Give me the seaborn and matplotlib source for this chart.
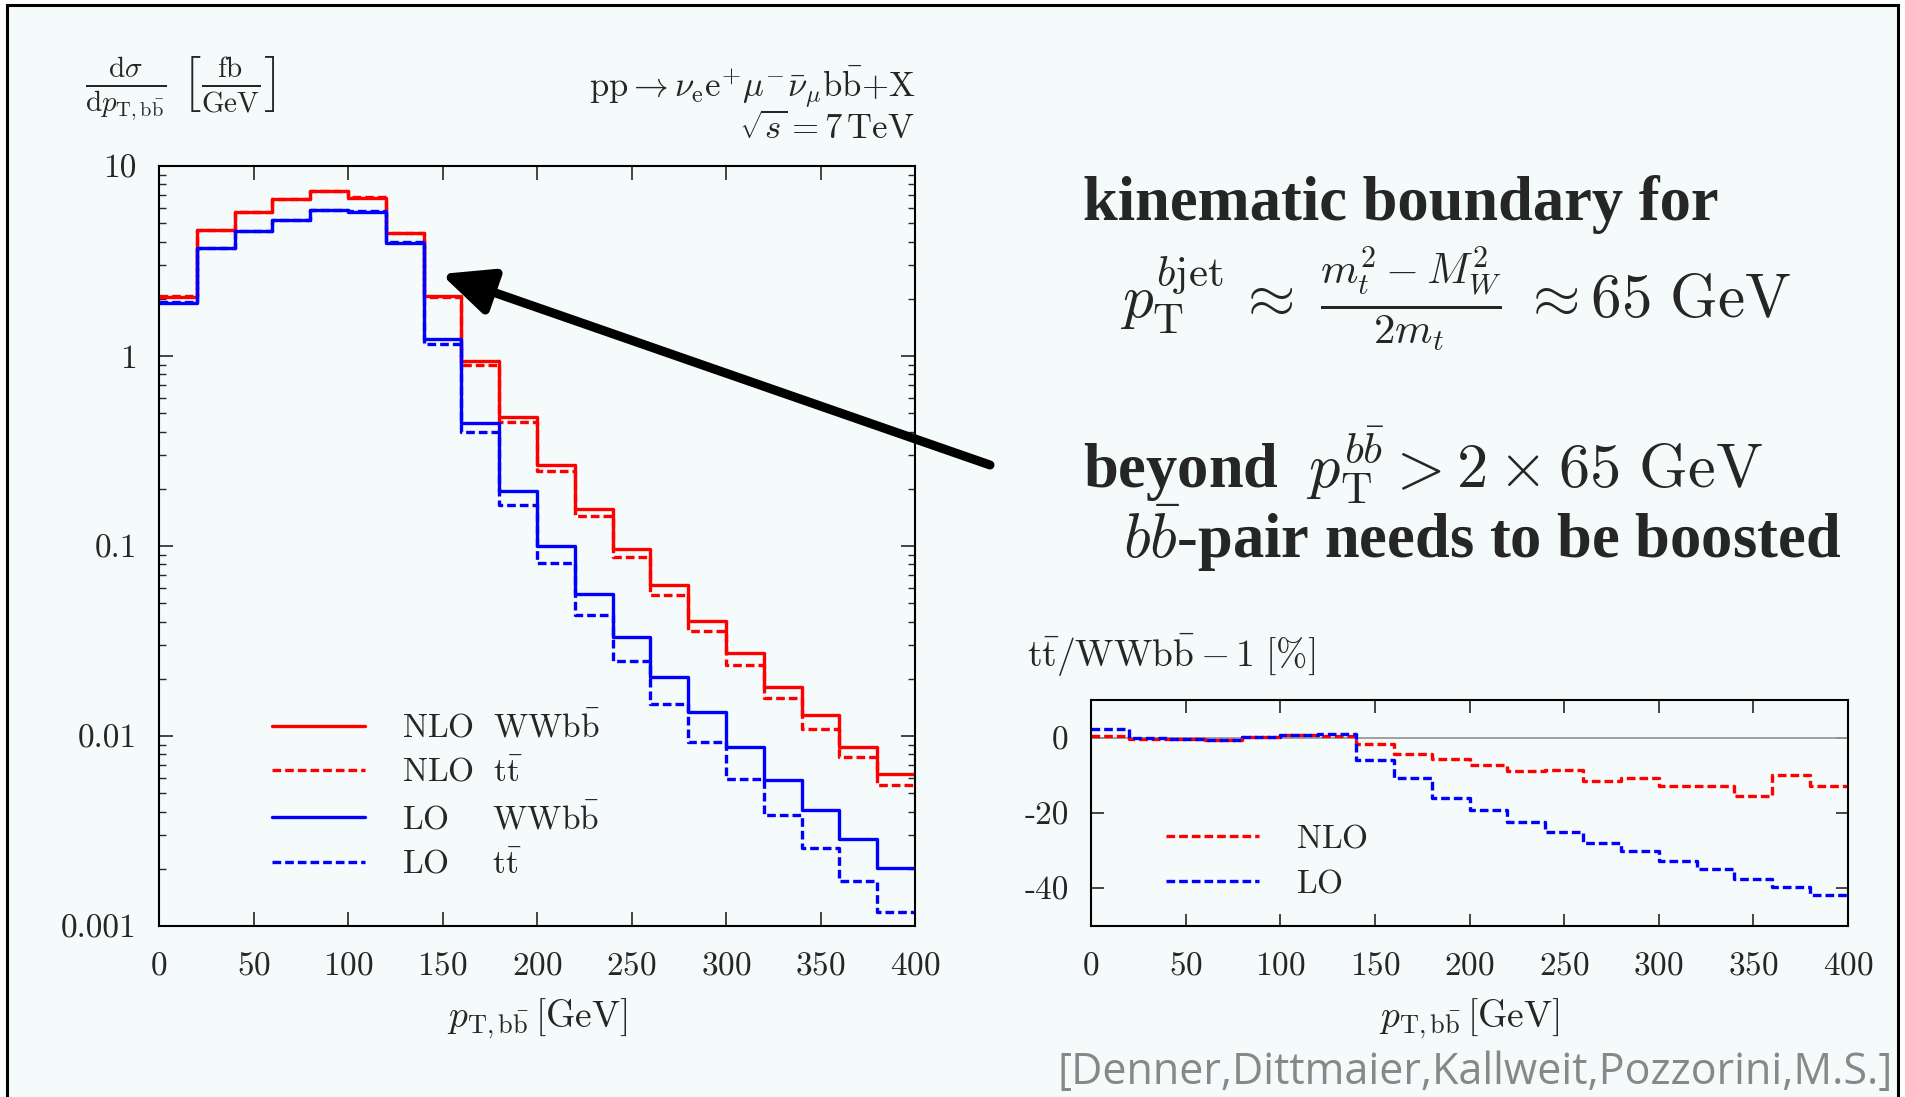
import numpy as np
import pandas as pd
import matplotlib
matplotlib.use("Agg")
import matplotlib.pyplot as plt
import seaborn as sns
from matplotlib.patches import FancyArrowPatch, Rectangle
from matplotlib.ticker import FixedLocator, FixedFormatter, LogLocator, NullFormatter

# p_T of the b b-bar system, 20 GeV bins from 0 to 400 GeV
bin_edges = np.arange(0, 420, 20)

# differential cross sections dsigma/dpT [fb/GeV]
nlo_wwbb = [2.05, 4.59, 5.75, 6.73, 7.36, 6.79, 4.42, 2.07, 0.938, 0.477,
            0.267, 0.157, 0.096, 0.062, 0.0403, 0.0272, 0.0182, 0.0129, 0.0087, 0.0063]
nlo_tt = [2.06, 4.58, 5.73, 6.68, 7.37, 6.83, 4.44, 2.04, 0.898, 0.450,
          0.248, 0.143, 0.088, 0.055, 0.0359, 0.0237, 0.0159, 0.0109, 0.0078, 0.00549]
lo_wwbb = [1.89, 3.72, 4.55, 5.22, 5.85, 5.73, 3.92, 1.23, 0.446, 0.195,
           0.100, 0.0557, 0.0332, 0.0205, 0.0133, 0.0088, 0.0059, 0.0041, 0.00287, 0.00202]
lo_tt = [1.935, 3.72, 4.54, 5.19, 5.86, 5.78, 3.96, 1.16, 0.399, 0.164,
         0.081, 0.0433, 0.0249, 0.0148, 0.0093, 0.00592, 0.00384, 0.00257, 0.00173, 0.00118]

# relative difference tt / WWbb - 1 [%]
ratio_nlo = [0.4, -0.3, -0.4, -0.7, 0.2, 0.6, 0.35, -1.6, -4.3, -5.6,
             -7.2, -8.8, -8.6, -11.5, -10.8, -12.8, -12.8, -15.5, -10.0, -12.9]
ratio_lo = [2.4, 0.0, -0.3, -0.5, 0.2, 0.8, 1.1, -5.8, -10.6, -16.1,
            -19.2, -22.3, -25.1, -28.0, -30.1, -32.7, -34.9, -37.5, -39.6, -41.7]

x_ticks = [0, 50, 100, 150, 200, 250, 300, 350, 400]
y_ticks_main = [1e-3, 1e-2, 1e-1, 1, 10]
y_labels_main = ["0.001", "0.01", "0.1", "1", "10"]
y_ticks_ratio = [0, -20, -40]
y_labels_ratio = ["0", "-20", "-40"]

main_series = ["nlo_wwbb", "nlo_tt", "lo_wwbb", "lo_tt"]
main_labels = [r"$\mathrm{NLO\ \ WWb\bar{b}}$", r"$\mathrm{NLO\ \ t\bar{t}}$",
               r"$\mathrm{LO\ \ \ \ \,WWb\bar{b}}$", r"$\mathrm{LO\ \ \ \ \,t\bar{t}}$"]
ratio_series = ["NLO", "LO"]

RED, BLUE = "#ff0000", "#0000ff"
BG = "#f5fafa"
DASH = (2.6, 1.2)
LW = 2.4

sns.set_style("ticks")
plt.rcParams.update({
    "font.family": ["cmr10", "DejaVu Serif"],
    "mathtext.fontset": "cm",
    "axes.formatter.use_mathtext": True,
    "axes.unicode_minus": False,
    "axes.linewidth": 1.5,
    "axes.edgecolor": "black",
    "axes.facecolor": "none",
})


def step_frame(values, name, col):
    vals = np.append(np.asarray(values, dtype=float), values[-1])
    return pd.DataFrame({"pt": bin_edges, col: vals, "series": name})


main_df = pd.concat([step_frame(v, n, "xs") for v, n in
                     zip([nlo_wwbb, nlo_tt, lo_wwbb, lo_tt], main_series)],
                    ignore_index=True)
ratio_df = pd.concat([step_frame(v, n, "rel") for v, n in
                      zip([ratio_nlo, ratio_lo], ratio_series)],
                     ignore_index=True)

fig = plt.figure(figsize=(19.05, 10.97), dpi=100)
fig.patch.set_facecolor("white")
top_frac = 1 - 5 / 1097
fig.add_artist(Rectangle((7 / 1905, -0.02), (1898 - 7) / 1905, top_frac + 0.02,
                         transform=fig.transFigure, facecolor=BG,
                         edgecolor="black", lw=2.2, zorder=-10))

ax = fig.add_axes([159 / 1905, 1 - 926 / 1097, (915 - 159) / 1905, (926 - 166) / 1097])
ax2 = fig.add_axes([1091 / 1905, 1 - 926 / 1097, (1848 - 1091) / 1905, (926 - 700) / 1097])

# main distribution
sns.lineplot(data=main_df, x="pt", y="xs", hue="series", style="series",
             hue_order=main_series, style_order=main_series,
             palette={"nlo_wwbb": RED, "nlo_tt": RED, "lo_wwbb": BLUE, "lo_tt": BLUE},
             dashes={"nlo_wwbb": "", "nlo_tt": DASH, "lo_wwbb": "", "lo_tt": DASH},
             drawstyle="steps-post", linewidth=LW, estimator=None,
             legend=False, ax=ax)
ax.set_yscale("log")
ax.set_xlim(0, 400)
ax.set_ylim(1e-3, 10)
ax.xaxis.set_major_locator(FixedLocator(x_ticks))
ax.yaxis.set_major_locator(FixedLocator(y_ticks_main))
ax.yaxis.set_major_formatter(FixedFormatter(y_labels_main))
ax.yaxis.set_minor_locator(LogLocator(base=10, subs=np.arange(2, 10)))
ax.yaxis.set_minor_formatter(NullFormatter())
ax.tick_params(which="major", direction="in", length=10, width=1.2,
               top=True, right=True, labelsize=24)
ax.tick_params(axis="y", which="minor", direction="in", length=5, width=1.0,
               left=True, right=True)
ax.tick_params(axis="x", pad=18)
ax.tick_params(axis="y", pad=16)
ax.set_xlabel(r"$p_{\mathrm{T,b\bar{b}}}\,[\mathrm{GeV}]$", fontsize=27, labelpad=12)
ax.set_ylabel("")

handles = ax.get_lines()[:4]
ax.legend(handles, main_labels, loc="upper left", bbox_to_anchor=(0.149, 0.284),
          frameon=False, fontsize=24, handlelength=2.8, handletextpad=1.1,
          labelspacing=0.42, borderpad=0, borderaxespad=0)

# relative difference panel
ax2.axhline(0, color="#999999", lw=1.3, zorder=1)
sns.lineplot(data=ratio_df, x="pt", y="rel", hue="series", style="series",
             hue_order=ratio_series, style_order=ratio_series,
             palette={"NLO": RED, "LO": BLUE},
             dashes={"NLO": DASH, "LO": DASH},
             drawstyle="steps-post", linewidth=LW, estimator=None,
             legend=False, ax=ax2)
ax2.set_xlim(0, 400)
ax2.set_ylim(-50, 10)
ax2.xaxis.set_major_locator(FixedLocator(x_ticks))
ax2.yaxis.set_major_locator(FixedLocator(y_ticks_ratio))
ax2.yaxis.set_major_formatter(FixedFormatter(y_labels_ratio))
ax2.tick_params(which="major", direction="in", length=9, width=1.2,
                top=True, right=True, labelsize=24)
ax2.tick_params(axis="x", pad=18)
ax2.tick_params(axis="y", pad=16)
ax2.set_xlabel(r"$p_{\mathrm{T,b\bar{b}}}\,[\mathrm{GeV}]$", fontsize=27, labelpad=12)
ax2.set_ylabel("")
ratio_handles = [l for l in ax2.get_lines() if l.get_color() in (RED, BLUE)][:2]
ax2.legend(ratio_handles, [r"$\mathrm{NLO}$", r"$\mathrm{LO}$"], loc="upper left",
           bbox_to_anchor=(0.099, 0.45), frameon=False, fontsize=24,
           handlelength=2.8, handletextpad=1.1, labelspacing=0.47,
           borderpad=0, borderaxespad=0)


def fpx(x, y):
    return x / 1905, 1 - y / 1097


# axis titles and process annotations
fig.text(*fpx(85, 89),
         r"$\frac{\mathrm{d}\sigma}{\mathrm{d}p_{\mathrm{T,b\bar{b}}}}\ \left[\frac{\mathrm{fb}}{\mathrm{GeV}}\right]$",
         fontsize=30, ha="left", va="center")
fig.text(*fpx(915, 97),
         r"$\mathrm{pp}\rightarrow\nu_{\mathrm{e}}\mathrm{e}^{+}\mu^{-}\bar{\nu}_{\mu}\mathrm{b\bar{b}}{+}\mathrm{X}$",
         fontsize=25, ha="right", va="baseline")
fig.text(*fpx(915, 139), r"$\sqrt{s}=7\,\mathrm{TeV}$",
         fontsize=25, ha="right", va="baseline")
fig.text(*fpx(1027, 654), r"$\mathrm{t\bar{t}/WWb\bar{b}}-1\ [\%]$",
         fontsize=27, ha="left", va="center")

# kinematic explanation
fig.text(*fpx(1083, 220), "kinematic boundary for", family="Liberation Serif",
         weight="bold", fontsize=45, ha="left", va="baseline")
fig.text(*fpx(1120, 318),
         r"$p_{\mathrm{T}}^{b\mathrm{jet}}\,\approx\;\frac{m_t^2-M_W^2}{2m_t}\;\approx 65\ \mathrm{GeV}$",
         fontsize=44, ha="left", va="baseline")
fig.text(*fpx(1083, 488),
         r"beyond  $p_{\mathrm{T}}^{b\bar{b}}>2\times 65\ \mathrm{GeV}$",
         family="Liberation Serif", weight="bold", fontsize=45,
         ha="left", va="baseline")
fig.text(*fpx(1123, 558), r"$b\bar{b}$-pair needs to be boosted",
         family="Liberation Serif", weight="bold", fontsize=45,
         ha="left", va="baseline")

fig.text(*fpx(1893, 1084), "[Denner,Dittmaier,Kallweit,Pozzorini,M.S.]",
         family=["Liberation Sans Narrow", "Open Sans"], color="#888888", fontsize=31,
         ha="right", va="baseline")

# arrow pointing at the kinematic edge
fig.add_artist(FancyArrowPatch(fpx(990, 465), fpx(441, 274), transform=fig.transFigure,
                               arrowstyle="-|>,head_length=2.2,head_width=1.0",
                               mutation_scale=14, lw=6.5, color="black",
                               shrinkA=0, shrinkB=0, zorder=20))

fig.savefig("out.png", dpi=100, facecolor=fig.get_facecolor())
